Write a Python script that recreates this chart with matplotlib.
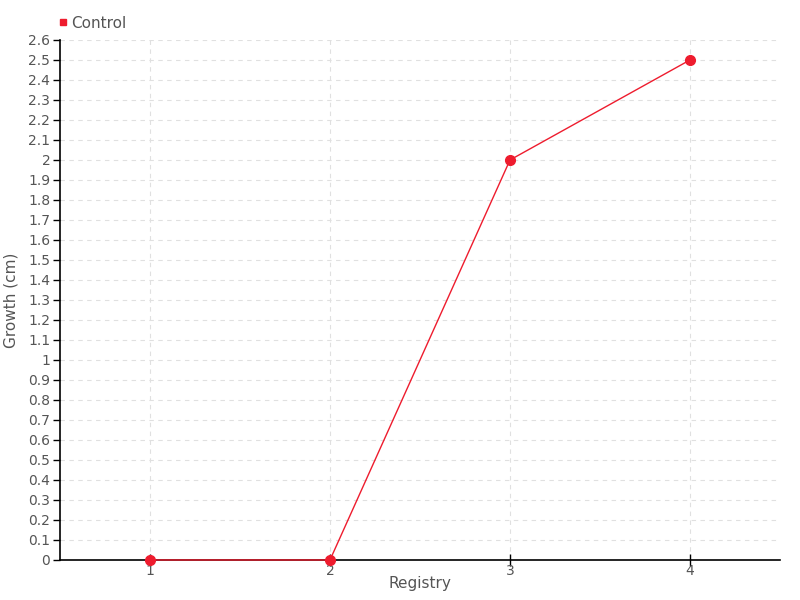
import numpy as np
import matplotlib.pyplot as plt

# datos
registros = [1, 2, 3, 4]
crecimiento = [0, 0, 2, 2.5]
etiqueta_serie = 'Control'
y_ticks = np.round(np.arange(0, 2.61, 0.1), 1)
y_labels = [('%g' % v) for v in y_ticks]

rojo = '#ee1c2e'
gris = '#555555'

plt.rcParams['font.family'] = ['DejaVu Sans']

fig = plt.figure(figsize=(8, 6), dpi=100)
ax = fig.add_axes([0.075, 0.0667, 0.9, 0.8667])

ax.plot(registros, crecimiento, color=rojo, linewidth=1, marker='o',
        markersize=7, markerfacecolor=rojo, markeredgecolor=rojo,
        label=etiqueta_serie, clip_on=False, zorder=3)

ax.set_xlim(0.5, 4.5)
ax.set_ylim(0, 2.6)
ax.set_xticks(registros)
ax.set_yticks(y_ticks)
ax.set_yticklabels(y_labels)

ax.grid(True, color='#e0e0e0', linestyle=(0, (4, 4)), linewidth=0.8)
ax.set_axisbelow(True)

# ejes superior / derecho fuera
ax.spines['top'].set_visible(False)
ax.spines['right'].set_visible(False)
ax.spines['left'].set_linewidth(1.2)
ax.spines['bottom'].set_linewidth(1.2)

ax.tick_params(axis='y', direction='out', length=5, width=1, labelsize=10,
               labelcolor=gris, pad=2)
ax.tick_params(axis='x', direction='inout', length=8, width=1, labelsize=10,
               labelcolor=gris, pad=-1)

ax.set_xlabel('Registry', fontsize=11, color=gris)
ax.xaxis.set_label_coords(0.5, -0.03)
ax.set_ylabel('Growth (cm)', fontsize=11, color=gris)
ax.yaxis.set_label_coords(-0.058, 0.5)

# leyenda arriba a la izquierda
fig.legend(handles=[plt.Line2D([], [], color=rojo, marker='s', linestyle='none',
                               markersize=5)],
           labels=[etiqueta_serie], loc='upper left',
           bbox_to_anchor=(0.052, 0.997), frameon=False, fontsize=11,
           handletextpad=0.0, handlelength=1.0, labelcolor=gris)

fig.savefig('out.png', dpi=100)
